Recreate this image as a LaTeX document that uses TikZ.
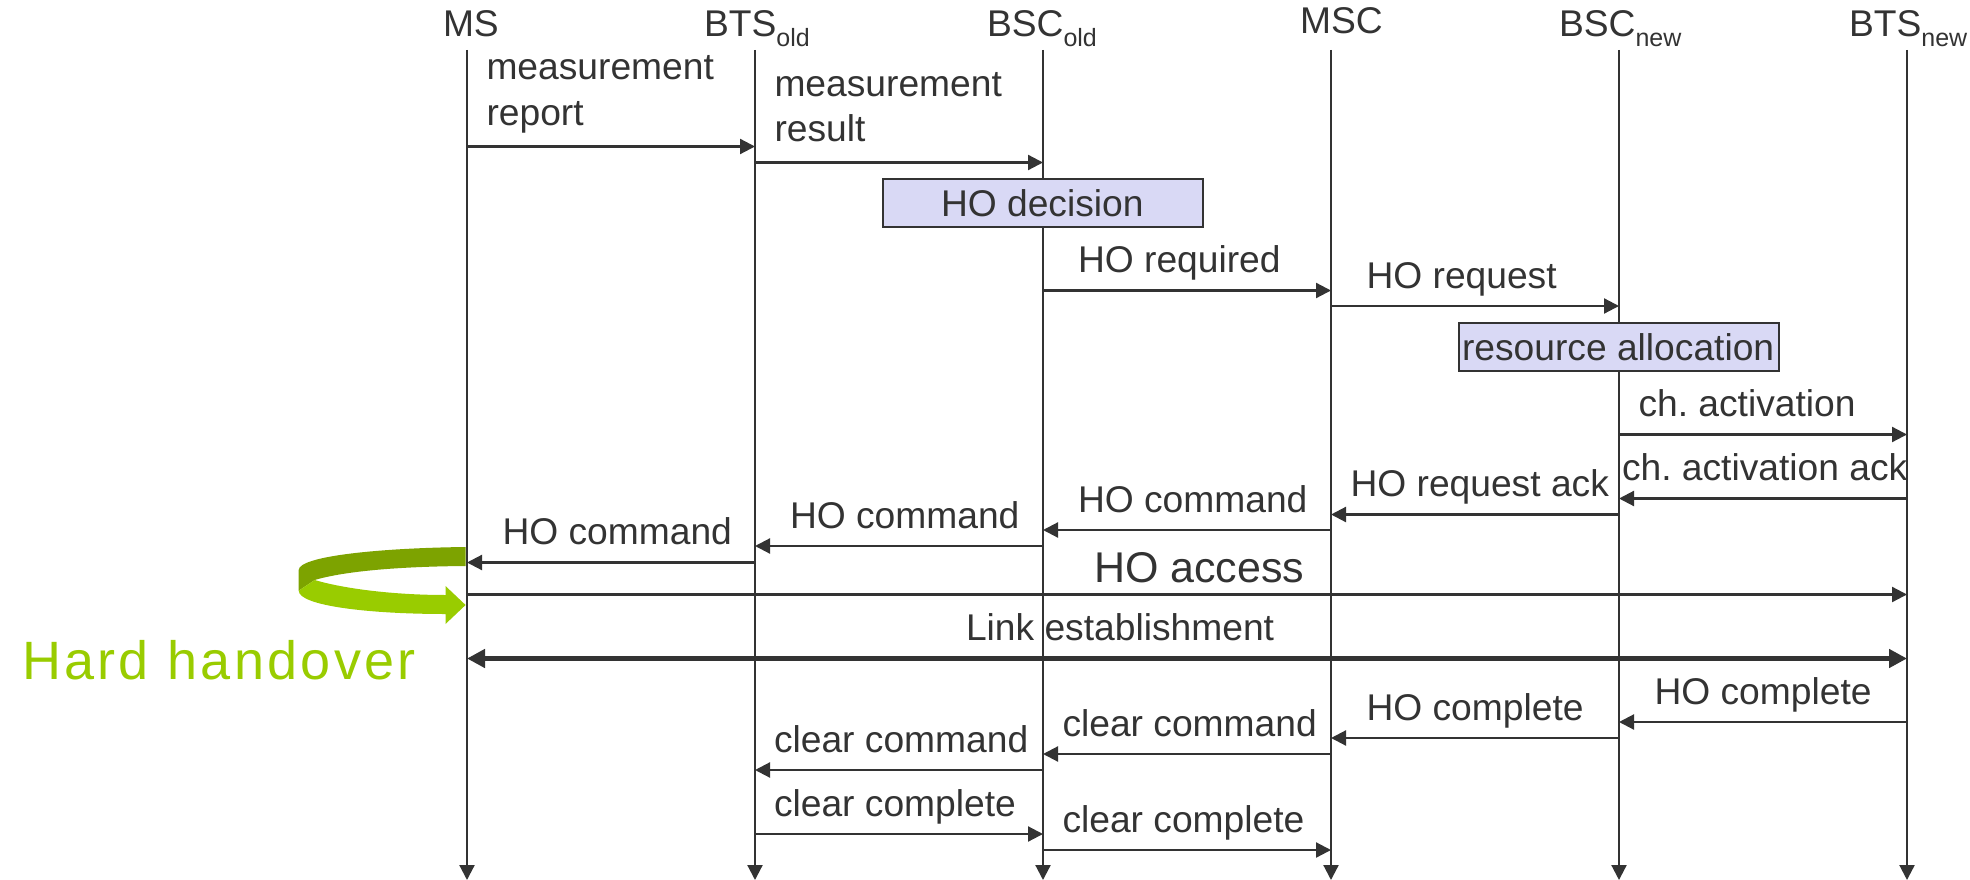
\documentclass[tikz,border=0pt]{standalone}
\usepackage{fontspec}
\setmainfont{Liberation Sans}
\newfontfamily\hardfont[LetterSpace=6.2]{Liberation Sans}
\usetikzlibrary{arrows.meta}
\definecolor{ink}{HTML}{333333}
\definecolor{boxfill}{HTML}{D9D9F5}
\definecolor{hardlight}{HTML}{99CC00}
\definecolor{harddark}{HTML}{7DA300}
\newcommand{\fs}[1]{\fontsize{#1}{#1}\selectfont}
\newcommand{\lowsub}[1]{{\fs{25}\raisebox{-10pt}{#1}}}
\tikzset{
  x=1pt,y=-1pt,
  lbl/.style={anchor=base west,inner sep=0pt,outer sep=0pt,text=ink,font=\fs{37.2}},
  lifeline/.style={draw=ink,line width=2.2pt,-{Triangle[length=15pt,width=15pt]}},
  msgline/.style={draw=ink,line width=2.2pt,-{Triangle[length=15pt,width=15pt]}},
  biglink/.style={draw=ink,line width=5.5pt,{Triangle[length=18pt,width=18pt]}-{Triangle[length=18pt,width=18pt]}},
  procbox/.style={draw=ink,line width=2.2pt,fill=boxfill,text=ink,inner sep=0pt,anchor=north west},
}
\newcommand{\msg}[3]{\draw[msgline] (#1 |- 0,#3) -- (#2 |- 0,#3);}
\begin{document}
\begin{tikzpicture}
\useasboundingbox (0,0) rectangle (1970,880);
% lifeline ends
\foreach \n/\x in {ms/467,btso/755,bsco/1043,msc/1331,bscn/1619,btsn/1907}{
  \coordinate (\n) at (\x,50);
  \coordinate (\n-end) at (\x,880);
  \draw[lifeline] (\n) -- (\n-end);
}
% headers
\node[lbl] (hms) at (443,37) {MS};
\node[lbl] (hbtso) at (704,37) {BTS\lowsub{old}};
\node[lbl] (hbsco) at (987,37) {BSC\lowsub{old}};
\node[lbl] (hmsc) at (1300,33.5) {MSC};
\node[lbl] (hbscn) at (1559,37) {BSC\lowsub{new}};
\node[lbl] (hbtsn) at (1849,37) {BTS\lowsub{new}};
% boxes
\node[procbox,minimum width=320pt,minimum height=48pt] (hodec) at (882,178) {};
\node[lbl] (hodect) at (941,216.5) {HO decision};
\node[procbox,minimum width=320pt,minimum height=48pt] (resal) at (1458,322) {};
\node[lbl] (resalt) at (1462,360) {resource allocation};
% messages
\msg{ms}{btso}{146.5}
\msg{btso}{bsco}{162.5}
\msg{bsco}{msc}{290.5}
\msg{msc}{bscn}{306}
\msg{bscn}{btsn}{434.5}
\msg{btsn}{bscn}{498.5}
\msg{bscn}{msc}{514.5}
\msg{msc}{bsco}{530}
\msg{bsco}{btso}{546}
\msg{btso}{ms}{562.5}
\msg{ms}{btsn}{594.5}
\draw[biglink] (ms |- 0,658.5) -- (btsn |- 0,658.5);
\msg{btsn}{bscn}{722}
\msg{bscn}{msc}{738}
\msg{msc}{bsco}{754}
\msg{bsco}{btso}{770}
\msg{btso}{bsco}{834}
\msg{bsco}{msc}{850}
% labels
\node[lbl] (l1) at (486.5,80) {measurement};
\node[lbl] (l1b) at (486.5,125) {report};
\node[lbl] (l2) at (774.5,97) {measurement};
\node[lbl] (l2b) at (774.5,142) {result};
\node[lbl] (l3) at (1078,272) {HO required};
\node[lbl] (l4) at (1366.5,288.5) {HO request};
\node[lbl] (l5) at (1638.5,416) {ch.\hspace{-3.5pt} activation};
\node[lbl] (l6) at (1622,480) {ch.\hspace{-3.5pt} activation ack};
\node[lbl] (l7) at (1350.5,496.5) {HO request ack};
\node[lbl] (l8) at (1078,512.5) {HO command};
\node[lbl] (l9) at (790,528.5) {HO command};
\node[lbl] (l10) at (502.5,544.5) {HO command};
\node[lbl,font=\fs{43}] (l11) at (1094,582) {HO access};
\node[lbl] (l12) at (966,640) {Link establishment};
\node[lbl] (l13) at (1654.5,704.5) {HO complete};
\node[lbl] (l14) at (1366.5,720.5) {HO complete};
\node[lbl] (l15) at (1062.5,736.5) {clear command};
\node[lbl] (l16) at (774,752.5) {clear command};
\node[lbl] (l17) at (774,816.5) {clear complete};
\node[lbl] (l18) at (1062.5,832.5) {clear complete};
% hard handover arrow
\fill[harddark] (465.6,547) .. controls (380,548) and (299,556) .. (298.7,570)
  -- (298.7,590.7) -- (314.7,580) .. controls (345,571) and (400,566.5) .. (465.6,566) -- cycle;
\fill[hardlight] (314.7,580) .. controls (345,589) and (395,595) .. (445.5,595)
  -- (445.5,586) -- (465.6,605) -- (445.5,624) -- (445.5,614)
  .. controls (370,614) and (299,606) .. (298.7,590.7) -- cycle;
\node[lbl,font={\fs{54}\hardfont},text=hardlight] (hard) at (22,679) {Hard handover};
\end{tikzpicture}
\end{document}
